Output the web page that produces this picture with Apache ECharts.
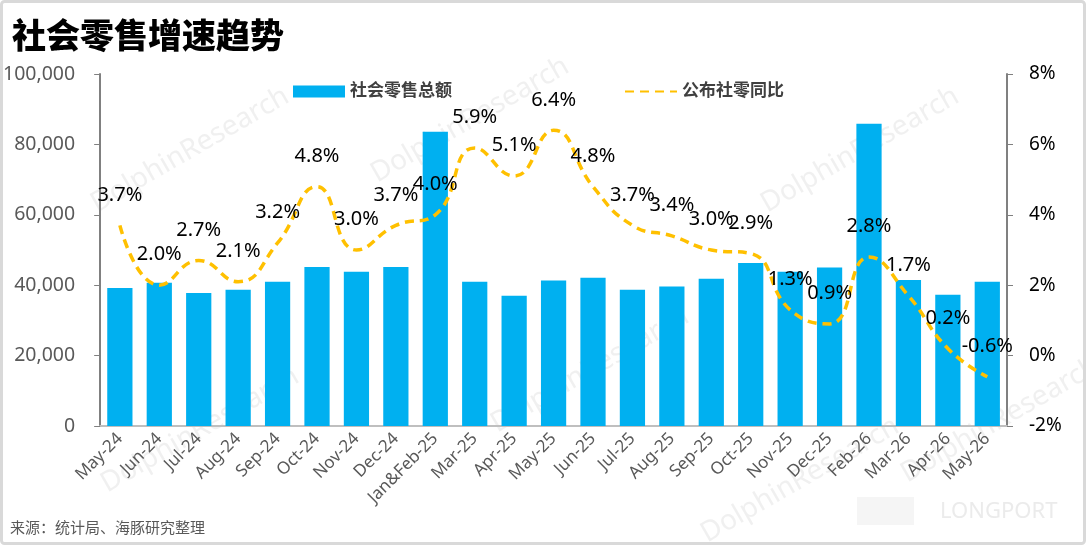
<!DOCTYPE html>
<html>
<head>
<meta charset="utf-8">
<script src="https://cdn.jsdelivr.net/npm/echarts@6/dist/echarts.min.js"></script>
<style>
html, body { margin: 0; padding: 0; background: #fff; }
#chart { width: 1086px; height: 545px; }
</style>
</head>
<body>
<div id="chart"></div>
<script>
// categories
const months = ['May-24', 'Jun-24', 'Jul-24', 'Aug-24', 'Sep-24', 'Oct-24', 'Nov-24', 'Dec-24',
    'Jan&Feb-25', 'Mar-25', 'Apr-25', 'May-25', 'Jun-25', 'Jul-25', 'Aug-25', 'Sep-25',
    'Oct-25', 'Nov-25', 'Dec-25', 'Feb-26', 'Mar-26', 'Apr-26', 'May-26']
// 社会零售总额 (亿元)
const retailTotal = [39200, 40700, 37800, 38700, 41000, 45200, 43800, 45200,
    83600, 41000, 37000, 41300, 42100, 38700, 39600, 41800,
    46300, 43800, 45000, 85900, 41500, 37300, 41000]
// 公布社零同比 (%)
const retailYoy = [3.7, 2.0, 2.7, 2.1, 3.2, 4.8, 3.0, 3.7,
    4.0, 5.9, 5.1, 6.4, 4.8, 3.7, 3.4, 3.0,
    2.9, 1.3, 0.9, 2.8, 1.7, 0.2, -0.6]
const leftTicks = [0, 100000, 20000]
const rightTicks = [-2, 8, 2]

const chart = echarts.init(document.getElementById('chart'))

const font = '"Noto Sans", "Noto Sans CJK SC", sans-serif'

// faint watermarks
const marks = []
const wmPos = [[190, 150], [470, 120], [860, 150], [590, 370], [200, 430], [1000, 420], [800, 480]]
wmPos.forEach(p => {
    marks.push({
        type: 'text',
        x: p[0],
        y: p[1],
        rotation: Math.PI / 6,
        style: {
            text: 'DolphinResearch',
            font: '28px ' + font,
            fill: 'rgba(200,200,200,0.28)',
            align: 'center',
            verticalAlign: 'middle'
        },
        z: 0
    })
})

const option = {
    backgroundColor: '#fff',
    textStyle: { fontFamily: font },
    title: {
        text: '社会零售增速趋势',
        left: 7,
        top: 16,
        textStyle: { fontSize: 34, fontWeight: 900, color: '#000', fontFamily: font }
    },
    graphic: marks.concat([
        {
            type: 'rect',
            shape: { x: 1.5, y: 1.5, width: 1083, height: 542, r: 3 },
            style: { fill: 'none', stroke: '#d9d9d9', lineWidth: 3 },
            z: 100
        },
        {
            type: 'text',
            left: 10,
            top: 521,
            style: { text: '来源：统计局、海豚研究整理', font: '15px ' + font, fill: '#595959' }
        },
        {
            type: 'rect',
            shape: { x: 857, y: 497, width: 57, height: 28 },
            style: { fill: 'rgba(215,215,215,0.25)' }
        },
        {
            type: 'text',
            left: 940,
            top: 501,
            style: { text: 'LONGPORT', font: '22px ' + font, fill: 'rgba(215,215,215,0.5)' }
        }
    ]),
    legend: {
        top: 78,
        left: 288,
        itemGap: 172,
        itemWidth: 52,
        itemHeight: 12,
        textStyle: { fontSize: 17, color: '#404040', fontWeight: 'bold', fontFamily: font },
        data: [
            { name: '社会零售总额', icon: 'rect' },
            { name: '公布社零同比' }
        ]
    },
    grid: {
        left: 100,
        right: 79,
        top: 74,
        bottom: 119
    },
    xAxis: {
        type: 'category',
        data: months,
        axisLine: { lineStyle: { color: '#bfbfbf', width: 2 } },
        axisTick: { show: false },
        axisLabel: {
            interval: 0,
            rotate: 45,
            fontSize: 17,
            color: '#595959',
            margin: 10
        }
    },
    yAxis: [
        {
            type: 'value',
            min: leftTicks[0],
            max: leftTicks[1],
            interval: leftTicks[2],
            splitLine: { show: false },
            axisLine: { show: true, lineStyle: { color: '#808080', width: 2 } },
            axisTick: { show: true, length: 6, lineStyle: { color: '#808080' } },
            axisLabel: {
                fontSize: 19.5,
                color: '#595959',
                margin: 25,
                formatter: v => v.toLocaleString('en-US')
            }
        },
        {
            type: 'value',
            min: rightTicks[0],
            max: rightTicks[1],
            interval: rightTicks[2],
            splitLine: { show: false },
            axisLine: { show: true, lineStyle: { color: '#808080', width: 2 } },
            axisTick: { show: true, length: 6, lineStyle: { color: '#808080' } },
            axisLabel: {
                fontSize: 19,
                color: '#000',
                margin: 22,
                formatter: '{value}%'
            }
        }
    ],
    series: [
        {
            name: '社会零售总额',
            type: 'bar',
            data: retailTotal,
            barWidth: '64%',
            itemStyle: { color: '#00B0F0' },
            z: 2
        },
        {
            name: '公布社零同比',
            type: 'line',
            yAxisIndex: 1,
            data: retailYoy,
            smooth: true,
            symbol: 'circle',
            symbolSize: 1,
            lineStyle: { color: '#FFC000', width: 3.5, type: [9, 6] },
            itemStyle: { color: 'rgba(0,0,0,0)' },
            label: {
                show: true,
                position: 'top',
                distance: 20,
                fontSize: 20,
                color: '#000',
                formatter: p => p.value.toFixed(1) + '%'
            },
            labelLayout: { hideOverlap: false },
            z: 3
        }
    ]
}

chart.setOption(option)
</script>
</body>
</html>
